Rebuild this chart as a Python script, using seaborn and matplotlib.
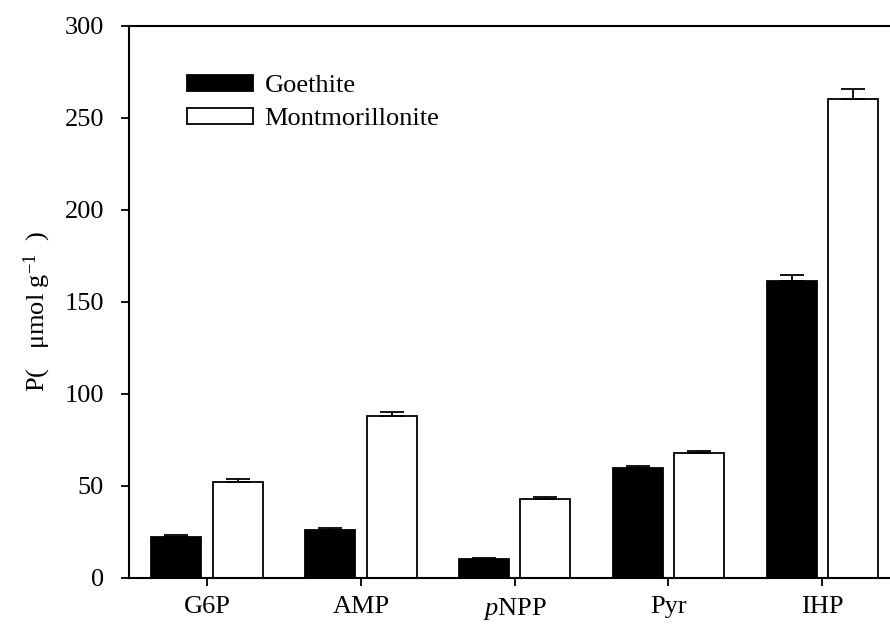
import numpy as np
import pandas as pd
import matplotlib
matplotlib.use("Agg")
import matplotlib.pyplot as plt
import seaborn as sns

# Adsorbed phosphorus per organic-P compound on two minerals
compounds = ["G6P", "AMP", "$\\mathit{p}$NPP", "Pyr", "IHP"]
minerals = ["Goethite", "Montmorillonite"]
goethite = [22.4, 26.1, 10.1, 59.6, 161.6]
montmorillonite = [52.4, 88.2, 43.0, 67.9, 260.5]
goethite_err = [1.0, 0.9, 0.7, 1.2, 3.0]
montmorillonite_err = [1.3, 1.8, 1.0, 1.3, 5.0]

df = pd.DataFrame({
    "compound": compounds * 2,
    "mineral": [minerals[0]] * 5 + [minerals[1]] * 5,
    "P": goethite + montmorillonite,
})

sns.set_theme(style="ticks")
plt.rcParams["font.family"] = ["Liberation Serif", "DejaVu Serif"]
plt.rcParams["mathtext.fontset"] = "custom"
plt.rcParams["mathtext.rm"] = "Liberation Serif"
plt.rcParams["mathtext.it"] = "Liberation Serif:italic"
for key in ["text.color", "axes.labelcolor", "xtick.color", "ytick.color",
            "axes.edgecolor"]:
    plt.rcParams[key] = "black"

FS = 19

fig = plt.figure(figsize=(8.9, 6.28), dpi=100)
ax = fig.add_axes([129 / 890, 50 / 628, (890 - 129) / 890, 552 / 628])

sns.barplot(data=df, x="compound", y="P", hue="mineral", order=compounds,
            hue_order=minerals, palette=["black", "white"], width=0.8,
            gap=0.1875, edgecolor="black", linewidth=1.3, errorbar=None,
            saturation=1, ax=ax)

# one-sided (upper) error bars placed on each bar
for container, err in zip(ax.containers, [goethite_err, montmorillonite_err]):
    xs = [b.get_x() + b.get_width() / 2 for b in container]
    ys = [b.get_height() for b in container]
    ax.errorbar(xs, ys, yerr=[np.zeros(len(err)), err], fmt="none",
                ecolor="black", elinewidth=1.3, capsize=8.3, capthick=1.3)

ax.set_xlim(-0.507, 4.44)
ax.set_ylim(0, 300)
ax.set_yticks(range(0, 301, 50))
ax.set_xlabel("")
ax.set_ylabel("P(   \u03bcmol g$^{\\mathrm{-1}}$  )", fontsize=FS)
ax.yaxis.set_label_coords(-0.100, 0.484)
ax.tick_params(axis="both", labelsize=FS, direction="out", length=6,
               width=1.3)
ax.tick_params(axis="x", pad=7)
ax.tick_params(axis="y", pad=12)
for s in ["left", "bottom", "top"]:
    ax.spines[s].set_linewidth(1.5)
ax.spines["right"].set_visible(False)

ax.legend(loc="upper left", bbox_to_anchor=(0.076, 0.912), frameon=False,
          fontsize=FS, handlelength=2.5, handleheight=0.57,
          handletextpad=0.45, labelspacing=0.41, borderpad=0,
          borderaxespad=0)

fig.savefig("out.png", dpi=100)
